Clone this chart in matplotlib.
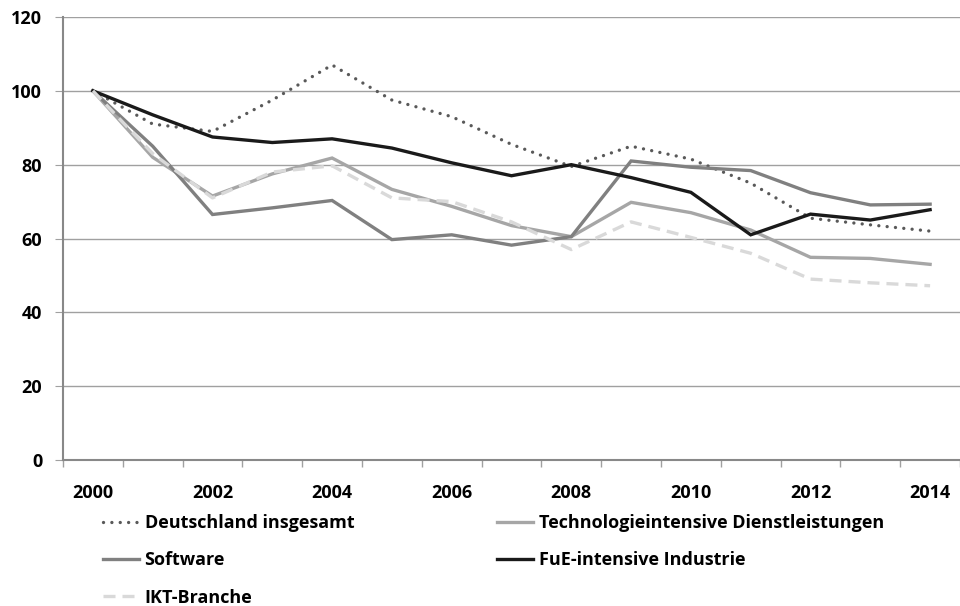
import matplotlib
matplotlib.use('Agg')
import matplotlib.pyplot as plt

years = list(range(2000, 2015))
deutschland = [100, 91, 89, 97.5, 107, 97.5, 93, 85.5, 79.5, 85, 81.5, 75, 65.5, 63.7, 62]
tech_dienst = [100, 82, 71.5, 77.5, 81.8, 73.3, 68.7, 63.5, 60.5, 69.8, 67, 62.3, 54.9, 54.6, 53]
software = [100, 85, 66.5, 68.3, 70.3, 59.7, 61, 58.2, 60.5, 81, 79.3, 78.4, 72.4, 69.1, 69.3]
fue_industrie = [100, 93.5, 87.5, 86, 87, 84.5, 80.5, 77, 80, 76.5, 72.5, 61, 66.6, 65, 67.8]
ikt = [100, 83, 71, 78, 79.7, 71, 70, 64.5, 57, 64.5, 60.3, 56, 49, 48, 47.2]

plt.rcParams['font.family'] = ['Open Sans', 'DejaVu Sans']
plt.rcParams['font.weight'] = 'bold'

fig = plt.figure(figsize=(9.6, 6.06), dpi=100)
ax = fig.add_axes([63/960, 1 - 460/606, 897/960, 443/606])

l_de, = ax.plot(years, deutschland, color='#595959', lw=2.4, ls=(0, (0.01, 2.5)), dash_capstyle='round')
l_te, = ax.plot(years, tech_dienst, color='#a6a6a6', lw=2.4)
l_sw, = ax.plot(years, software, color='#808080', lw=2.4)
l_fu, = ax.plot(years, fue_industrie, color='#1a1a1a', lw=2.4)
l_ikt, = ax.plot(years, ikt, color='#d9d9d9', lw=2.4, ls=(0, (3.6, 2.1)))
for l in (l_de, l_te, l_sw, l_fu, l_ikt):
    l.set_solid_joinstyle('miter')

ax.set_ylim(0, 120)
ax.set_yticks(range(0, 121, 20))
ax.set_xlim(1999.5, 1999.5 + 897/60.2)
ax.set_xticks([y + 0.5 for y in range(1999, 2015)], minor=True)
ax.set_xticks(years[::2])
ax.tick_params(axis='x', which='major', length=0, pad=17, labelsize=13)
ax.tick_params(axis='x', which='minor', length=5, color='#a0a0a0', width=1)
ax.tick_params(axis='y', length=6, color='#a0a0a0', pad=9, labelsize=13)
ax.grid(axis='y', color='#a0a0a0', lw=1)
ax.set_axisbelow(True)
for s in ('top', 'right'):
    ax.spines[s].set_visible(False)
for s in ('left', 'bottom'):
    ax.spines[s].set_color('#888888')
    ax.spines[s].set_linewidth(1.5)

leg_kw = dict(frameon=False, fontsize=13, handlelength=2.0, handletextpad=0.3,
              labelspacing=1.07, borderpad=0, borderaxespad=0)
fig.legend([l_de, l_sw, l_ikt], ['Deutschland insgesamt', 'Software', 'IKT-Branche'],
           loc='upper left', bbox_to_anchor=(103/960, 1 - 514/606), **leg_kw)
fig.legend([l_te, l_fu], ['Technologieintensive Dienstleistungen', 'FuE-intensive Industrie'],
           loc='upper left', bbox_to_anchor=(497/960, 1 - 514/606), **leg_kw)

fig.savefig('out.png', dpi=100)
